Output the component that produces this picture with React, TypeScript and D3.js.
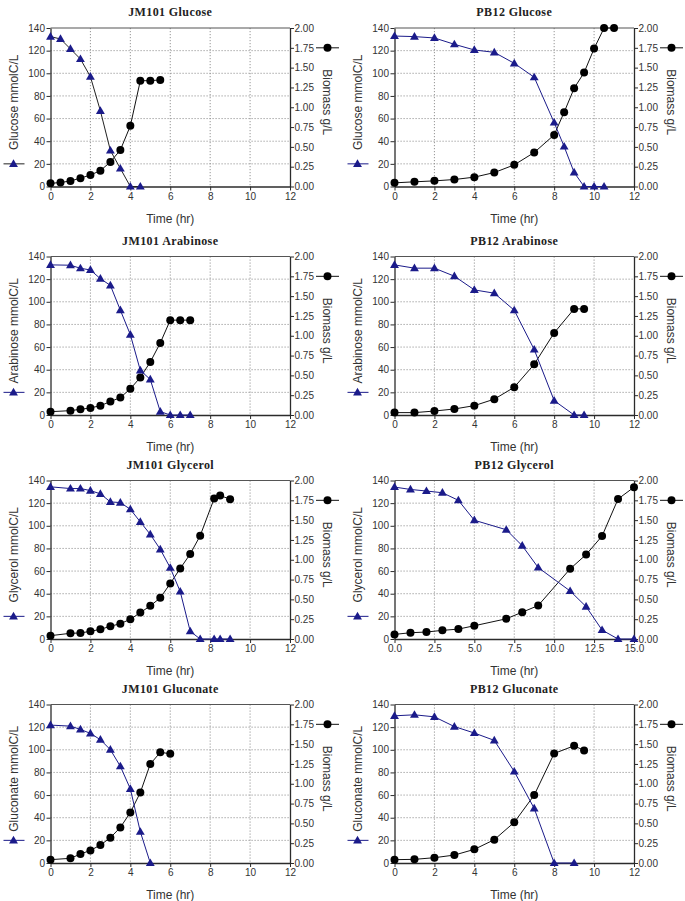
import React, { useRef, useEffect } from 'react';
import * as d3 from 'd3';

// substrate (triangles, mmolC/L) and biomass (circles, g/L) vs time (hr)

// JM101 Glucose
const jm101GlucoseSubT = [0, 0.5, 1, 1.5, 2, 2.5, 3, 3.5, 4, 4.5];
const jm101GlucoseSub = [132.4, 130.3, 121.5, 112.6, 97, 66.8, 31.8, 15.9, 0, 0];
const jm101GlucoseBioT = [0, 0.5, 1, 1.5, 2, 2.5, 3, 3.5, 4, 4.5, 5, 5.5];
const jm101GlucoseBio = [0.04, 0.05, 0.07, 0.105, 0.145, 0.2, 0.31, 0.46, 0.765, 1.335, 1.335, 1.345];

// PB12 Glucose
const pb12GlucoseSubT = [0, 1, 2, 3, 4, 5, 6, 7, 8, 8.5, 9, 9.5, 10, 10.5];
const pb12GlucoseSub = [132.9, 132.4, 131.2, 125.6, 120.6, 118.5, 108.8, 96.5, 56.5, 35.3, 12.4, 0, 0, 0];
const pb12GlucoseBioT = [0, 1, 2, 3, 4, 5, 6, 7, 8, 8.5, 9, 9.5, 10, 10.5, 11];
const pb12GlucoseBio = [0.046, 0.059, 0.071, 0.088, 0.118, 0.176, 0.273, 0.429, 0.651, 0.937, 1.24, 1.437, 1.74, 2.0, 2.0];

// JM101 Arabinose
const jm101ArabinoseSubT = [0, 1, 1.5, 2, 2.5, 3, 3.5, 4, 4.5, 5, 5.5, 6, 6.5, 7];
const jm101ArabinoseSub = [132.6, 132.3, 129.6, 128.1, 120.4, 114.5, 92.6, 71, 39.4, 31.4, 3, 0, 0, 0];
const jm101ArabinoseBioT = [0, 1, 1.5, 2, 2.5, 3, 3.5, 4, 4.5, 5, 5.5, 6, 6.5, 7];
const jm101ArabinoseBio = [0.042, 0.055, 0.072, 0.089, 0.118, 0.169, 0.22, 0.33, 0.474, 0.668, 0.909, 1.197, 1.197, 1.197];

// PB12 Arabinose
const pb12ArabinoseSubT = [0, 1, 2, 3, 4, 5, 6, 7, 8, 9, 9.5];
const pb12ArabinoseSub = [132.6, 129.7, 129.7, 122.6, 110.5, 107.6, 92.5, 57.8, 12.7, 0, 0];
const pb12ArabinoseBioT = [0, 1, 2, 3, 4, 5, 6, 7, 8, 9, 9.5];
const pb12ArabinoseBio = [0.03, 0.03, 0.05, 0.076, 0.118, 0.2, 0.35, 0.64, 1.036, 1.339, 1.339];

// JM101 Glycerol
const jm101GlycerolSubT = [0, 1, 1.5, 2, 2.5, 3, 3.5, 4, 4.5, 5, 5.5, 6, 6.5, 7, 7.5, 8.2, 8.5, 9];
const jm101GlycerolSub = [134.4, 132.9, 132.9, 131.1, 128.2, 121.1, 120.5, 114.6, 103.4, 92.4, 79.2, 62.9, 41.9, 6.8, 0, 0, 0, 0];
const jm101GlycerolBioT = [0, 1, 1.5, 2, 2.5, 3, 3.5, 4, 4.5, 5, 5.5, 6, 6.5, 7, 7.5, 8.2, 8.5, 9];
const jm101GlycerolBio = [0.042, 0.072, 0.076, 0.097, 0.122, 0.16, 0.194, 0.249, 0.333, 0.418, 0.519, 0.7, 0.89, 1.072, 1.304, 1.772, 1.81, 1.764];

// PB12 Glycerol
const pb12GlycerolSubT = [0, 1, 2, 3, 4, 5, 7, 8, 9, 11, 12, 13, 14, 15];
const pb12GlycerolSub = [134.2, 132.1, 130.7, 129.2, 122.5, 104.9, 96.5, 82.4, 63.1, 42.4, 28.6, 7.9, 0, 0];
const pb12GlycerolBioT = [0, 1, 2, 3, 4, 5, 7, 8, 9, 11, 12, 13, 14, 15];
const pb12GlycerolBio = [0.058, 0.079, 0.088, 0.109, 0.125, 0.167, 0.255, 0.338, 0.422, 0.885, 1.065, 1.299, 1.766, 1.916];

// JM101 Gluconate
const jm101GluconateSubT = [0, 1, 1.5, 2, 2.5, 3, 3.5, 4, 4.5, 5];
const jm101GluconateSub = [121.8, 120.9, 118, 114.5, 108.9, 100.1, 85.4, 65.5, 27.6, 0];
const jm101GluconateBioT = [0, 1, 1.5, 2, 2.5, 3, 3.5, 4, 4.5, 5, 5.5, 6];
const jm101GluconateBio = [0.042, 0.059, 0.113, 0.159, 0.226, 0.319, 0.449, 0.637, 0.889, 1.249, 1.396, 1.379];

// PB12 Gluconate
const pb12GluconateSubT = [0, 1, 2, 3, 4, 5, 6, 7, 8, 9];
const pb12GluconateSub = [130, 130.9, 129.1, 120.5, 114.8, 108.3, 80.8, 48.2, 0, 0];
const pb12GluconateBioT = [0, 1, 2, 3, 4, 5, 6, 7, 8, 9, 9.5];
const pb12GluconateBio = [0.042, 0.046, 0.067, 0.1, 0.172, 0.294, 0.513, 0.857, 1.382, 1.479, 1.42];

const titles = ["JM101 Glucose", "PB12 Glucose", "JM101 Arabinose", "PB12 Arabinose",
  "JM101 Glycerol", "PB12 Glycerol", "JM101 Gluconate", "PB12 Gluconate"];
const substrates = ["Glucose", "Glucose", "Arabinose", "Arabinose", "Glycerol", "Glycerol", "Gluconate", "Gluconate"];
const timeTicks12 = [0, 2, 4, 6, 8, 10, 12];
const timeTicks15 = [0, 2.5, 5, 7.5, 10, 12.5, 15];
const substrateTicks = [0, 20, 40, 60, 80, 100, 120, 140];
const biomassTicks = [0, 0.25, 0.5, 0.75, 1, 1.25, 1.5, 1.75, 2];

const subT = [jm101GlucoseSubT, pb12GlucoseSubT, jm101ArabinoseSubT, pb12ArabinoseSubT, jm101GlycerolSubT, pb12GlycerolSubT, jm101GluconateSubT, pb12GluconateSubT];
const subV = [jm101GlucoseSub, pb12GlucoseSub, jm101ArabinoseSub, pb12ArabinoseSub, jm101GlycerolSub, pb12GlycerolSub, jm101GluconateSub, pb12GluconateSub];
const bioT = [jm101GlucoseBioT, pb12GlucoseBioT, jm101ArabinoseBioT, pb12ArabinoseBioT, jm101GlycerolBioT, pb12GlycerolBioT, jm101GluconateBioT, pb12GluconateBioT];
const bioV = [jm101GlucoseBio, pb12GlucoseBio, jm101ArabinoseBio, pb12ArabinoseBio, jm101GlycerolBio, pb12GlycerolBio, jm101GluconateBio, pb12GluconateBio];

var width = 685
var height = 901
var colX = [50.5, 394.5]
var rowTop = [28, 256.5, 480.5, 704.5]
var plotW = 239.5
var plotH = 158.5

var navy = "#1b1b8a"
var axisColor = "#2b2b2b"
var textColor = "#333"
var font = "Liberation Sans, Arial, sans-serif"

function App() {
  const ref = useRef(null);

  useEffect(() => {
    const svg = d3.select(ref.current)
    svg.selectAll("*").remove();
    for (let i = 0; i < 8; i++) {
      drawPanel(svg, i, colX[i % 2], rowTop[Math.floor(i / 2)])
    }
  }, []);

  const drawPanel = (svg, i, x0, top) => {
    var xMax = i === 5 ? 15 : 12
    var xTicks = i === 5 ? timeTicks15 : timeTicks12
    var x = d3.scaleLinear().domain([0, xMax]).range([x0, x0 + plotW])
    var y = d3.scaleLinear().domain([0, 140]).range([top + plotH, top])
    var y2 = d3.scaleLinear().domain([0, 2]).range([top + plotH, top])
    var x1 = x0 + plotW
    var bottom = top + plotH

    const g = svg.append("g")

    // dotted grid
    g.append("g").selectAll("line")
      .data(xTicks.filter(t => t > 0 && t < xMax))
      .join("line")
      .attr("x1", d => x(d)).attr("x2", d => x(d))
      .attr("y1", top).attr("y2", bottom)
      .attr("stroke", "#8a8a8a").attr("stroke-width", 0.9)
      .attr("stroke-dasharray", "1.2,1.8")
    g.append("g").selectAll("line")
      .data(substrateTicks.filter(t => t > 0 && t < 140))
      .join("line")
      .attr("x1", x0).attr("x2", x1)
      .attr("y1", d => y(d)).attr("y2", d => y(d))
      .attr("stroke", "#8a8a8a").attr("stroke-width", 0.9)
      .attr("stroke-dasharray", "1.2,1.8")

    // top border
    g.append("line")
      .attr("x1", x0).attr("x2", x1).attr("y1", top).attr("y2", top)
      .attr("stroke", "#555").attr("stroke-width", 1.2)

    const styleAxis = a => {
      a.attr("font-family", font).attr("font-size", 10)
      a.select(".domain").attr("stroke", axisColor).attr("stroke-width", 1.3)
      a.selectAll(".tick line").attr("stroke", axisColor)
      a.selectAll(".tick text").attr("fill", textColor)
    }

    g.append("g")
      .attr("transform", `translate(0,${bottom})`)
      .call(d3.axisBottom(x).tickValues(xTicks)
        .tickFormat(i === 5 ? d3.format(".1f") : d3.format("d"))
        .tickSize(4).tickSizeOuter(0).tickPadding(2))
      .call(styleAxis)

    g.append("g")
      .attr("transform", `translate(${x0},0)`)
      .call(d3.axisLeft(y).tickValues(substrateTicks).tickSize(4).tickSizeOuter(0).tickPadding(1.5))
      .call(styleAxis)

    g.append("g")
      .attr("transform", `translate(${x1},0)`)
      .call(d3.axisRight(y2).tickValues(biomassTicks).tickFormat(d3.format(".2f"))
        .tickSize(4).tickSizeOuter(0).tickPadding(0.5))
      .call(styleAxis)

    // title
    g.append("text")
      .attr("x", (x0 + x1) / 2).attr("y", top - 12)
      .attr("text-anchor", "middle")
      .attr("font-family", "Liberation Serif, Times New Roman, serif")
      .attr("font-weight", "bold").attr("font-size", 12)
      .attr("letter-spacing", 0.4)
      .attr("fill", "#222")
      .text(titles[i])

    // axis titles
    g.append("text")
      .attr("x", (x0 + x1) / 2).attr("y", bottom + 36)
      .attr("text-anchor", "middle")
      .attr("font-family", font).attr("font-size", 12).attr("fill", textColor)
      .text("Time (hr)")

    var cy = top + plotH / 2 - 5
    g.append("text")
      .attr("transform", `translate(${x0 - 33},${cy}) rotate(-90)`)
      .attr("text-anchor", "middle")
      .attr("font-family", font).attr("font-size", 12).attr("fill", textColor)
      .text(substrates[i] + " mmolC/L")

    g.append("text")
      .attr("transform", `translate(${x1 + 33},${cy}) rotate(90)`)
      .attr("text-anchor", "middle")
      .attr("font-family", font).attr("font-size", 12).attr("fill", textColor)
      .text("Biomass g/L")

    var subLine = i === 0 ? "#222" : navy
    var tri = d3.symbol(d3.symbolTriangle, 34)

    // legend keys
    g.append("line")
      .attr("x1", x0 - 47).attr("x2", x0 - 26)
      .attr("y1", y(20)).attr("y2", y(20))
      .attr("stroke", subLine).attr("stroke-width", 1)
    g.append("path")
      .attr("d", tri())
      .attr("transform", `translate(${x0 - 37},${y(20) + 0.5})`)
      .attr("fill", navy)
    g.append("line")
      .attr("x1", x1 + 26).attr("x2", x1 + 49)
      .attr("y1", y2(1.75)).attr("y2", y2(1.75))
      .attr("stroke", "#111").attr("stroke-width", 1)
    g.append("circle")
      .attr("cx", x1 + 37.5).attr("cy", y2(1.75)).attr("r", 4)
      .attr("fill", "#000")

    // substrate series
    var subData = subT[i].map((t, k) => ({ t: t, v: subV[i][k] }))
    var bioData = bioT[i].map((t, k) => ({ t: t, v: bioV[i][k] }))

    g.append("path")
      .datum(bioData)
      .attr("fill", "none").attr("stroke", "#111").attr("stroke-width", 1)
      .attr("d", d3.line().x(d => x(d.t)).y(d => y2(d.v)))

    g.append("path")
      .datum(subData)
      .attr("fill", "none").attr("stroke", subLine).attr("stroke-width", 1)
      .attr("d", d3.line().x(d => x(d.t)).y(d => y(d.v)))

    g.append("g").selectAll("circle")
      .data(bioData)
      .join("circle")
      .attr("cx", d => x(d.t)).attr("cy", d => y2(d.v)).attr("r", 4)
      .attr("fill", "#000")

    g.append("g").selectAll("path")
      .data(subData)
      .join("path")
      .attr("d", tri())
      .attr("transform", d => `translate(${x(d.t)},${y(d.v) + 0.5})`)
      .attr("fill", navy)
  }

  return (
    <div style={{ position: "absolute", left: 0, top: 0, background: "#fff" }}>
      <svg ref={ref} width={width} height={height} style={{ display: "block" }}></svg>
    </div>
  );
}

export default App;
